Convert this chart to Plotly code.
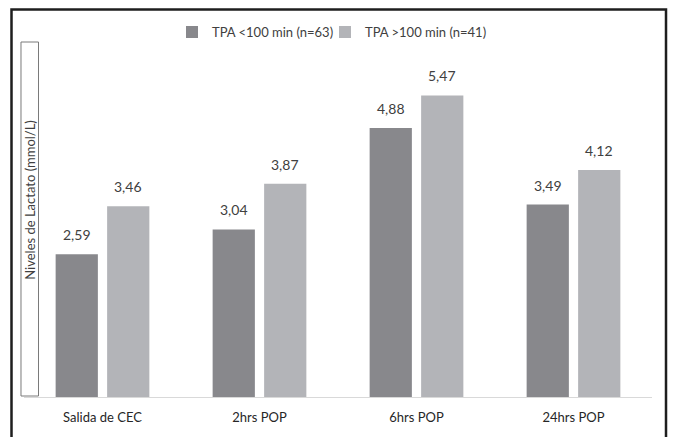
import plotly.graph_objects as go

# Lactate levels (mmol/L) by time point, split by TPA group
categories = ["Salida de CEC", "2hrs POP", "6hrs POP", "24hrs POP"]
tpa_menor = [2.59, 3.04, 4.88, 3.49]
tpa_mayor = [3.46, 3.87, 5.47, 4.12]
series_names = ["TPA <100 min (n=63)", "TPA >100 min (n=41)"]
series_colors = ["#88888c", "#b3b4b8"]

FONT = "Lato, Liberation Sans, sans-serif"
TEXT_COLOR = "#404040"


def fmt(v):
    return f"{v:.2f}".replace(".", ",")


fig = go.Figure()
for name, values, color, lg in zip(series_names, [tpa_menor, tpa_mayor],
                                   series_colors, ["legend", "legend2"]):
    fig.add_trace(go.Bar(
        x=categories, y=values, name=name, legend=lg,
        marker=dict(color=color, line=dict(width=0)),
        hoverinfo="skip",
    ))

# value labels above each bar
offsets = [-25.75, 25.75]
for values, dx in zip([tpa_menor, tpa_mayor], offsets):
    for cat, v in zip(categories, values):
        fig.add_annotation(
            x=cat, y=v, text=fmt(v), showarrow=False,
            xshift=dx, yshift=9, yanchor="bottom",
            font=dict(family=FONT, size=14, color=TEXT_COLOR),
        )

# boxed y-axis title
fig.add_shape(type="rect", xref="paper", yref="paper",
              x0=-0.0048, x1=0.0231, y0=0.0028, y1=1.0,
              line=dict(color="#7a7a7a", width=1), fillcolor="rgba(0,0,0,0)")
fig.add_annotation(
    xref="paper", yref="paper", x=(30 - 24) / 628, y=(402 - 202) / 360,
    text="Niveles de Lactato (mmol/L)", textangle=-90, showarrow=False,
    xanchor="center", yanchor="middle",
    font=dict(family=FONT, size=13, color=TEXT_COLOR),
)

# outer frame
fig.add_shape(type="rect", xref="paper", yref="paper",
              x0=-0.0199, x1=1.0223, y0=-0.3, y1=1.0917,
              line=dict(color="#1e1e1e", width=2.5), fillcolor="rgba(0,0,0,0)",
              layer="above")

legend_style = dict(
    orientation="h", xanchor="left",
    y=(402 - 32) / 360, yanchor="middle",
    font=dict(family=FONT, size=13, color=TEXT_COLOR),
    itemclick=False, itemdoubleclick=False, itemwidth=30,
    bgcolor="rgba(0,0,0,0)",
)

fig.update_layout(
    width=673, height=437,
    margin=dict(l=24, r=21, t=42, b=35),
    paper_bgcolor="white", plot_bgcolor="white",
    barmode="group", bargap=0.344, bargroupgap=0.18,
    showlegend=True,
    legend=dict(x=(172 - 24) / 628, **legend_style),
    legend2=dict(x=(325 - 24) / 628, **legend_style),
    font=dict(family=FONT, color=TEXT_COLOR),
    xaxis=dict(
        showline=True, linecolor="#d9d9d9", linewidth=1,
        showgrid=False, ticks="", ticklabelstandoff=8,
        tickfont=dict(family=FONT, size=13, color="#262626"),
        fixedrange=True,
    ),
    yaxis=dict(
        range=[0, 6.44], visible=False, showgrid=False, zeroline=False,
        fixedrange=True,
    ),
)

fig.write_html("out.html")
